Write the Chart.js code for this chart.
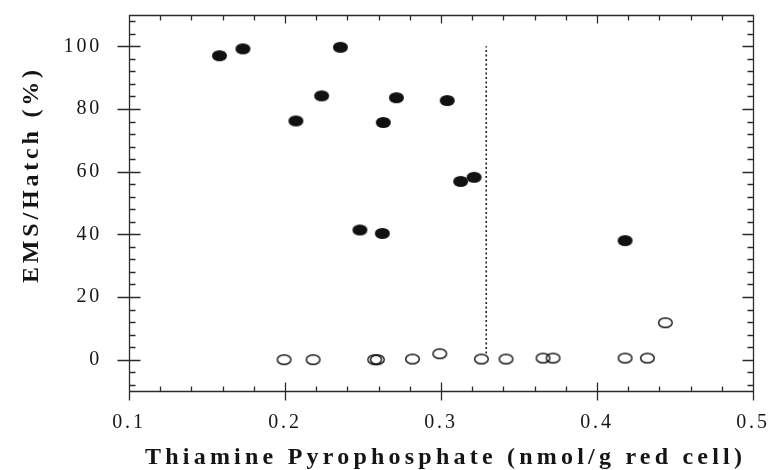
<!DOCTYPE html>
<html lang="en">
<head>
<meta charset="UTF-8" />
<title>EMS/Hatch vs Thiamine Pyrophosphate</title>
<script src="https://cdn.jsdelivr.net/npm/chart.js"></script>
<style>
  body { margin: 0; background: #fff; }
</style>
</head>
<body>
<canvas id="tppChart" width="769" height="470"></canvas>
<script>
// filled circles (EMS present)
const filledX = [0.158, 0.173, 0.2355, 0.207, 0.2235, 0.263, 0.2714, 0.248, 0.2624, 0.304, 0.3126, 0.3212, 0.418];
const filledY = [97.0, 99.2, 99.7, 76.2, 84.2, 75.7, 83.6, 41.4, 40.3, 82.7, 56.9, 58.2, 38.0];
// open circles
const openX = [0.1994, 0.218, 0.2575, 0.2592, 0.2817, 0.2992, 0.3259, 0.3417, 0.3654, 0.3718, 0.418, 0.4323, 0.4438];
const openY = [0, 0, 0, 0, 0.2, 1.9, 0.2, 0.2, 0.5, 0.5, 0.5, 0.5, 11.8];
// dotted cut-off line
const cutoffX = [0.329, 0.329];
const cutoffY = [2, 100];

const xTicks = [0.1, 0.2, 0.3, 0.4, 0.5];
const yTicks = [0, 20, 40, 60, 80, 100];
const xTitle = "Thiamine Pyrophosphate (nmol/g red cell)";
const yTitle = "EMS/Hatch (%)";

function ellipse(w, h, fill, stroke) {
  const c = document.createElement("canvas");
  c.width = w + 2;
  c.height = h + 2;
  const g = c.getContext("2d");
  g.beginPath();
  g.ellipse((w + 2) / 2, (h + 2) / 2, w / 2 - (stroke ? 0.7 : 0), h / 2 - (stroke ? 0.7 : 0), 0, 0, Math.PI * 2);
  if (fill) { g.fillStyle = fill; g.fill(); }
  if (stroke) { g.lineWidth = 1.4; g.strokeStyle = stroke; g.stroke(); }
  return c;
}

function pairs(xs, ys) {
  return xs.map((x, i) => ({ x: x, y: ys[i] }));
}

function spacedText(ctx, text, cx, cy, target) {
  ctx.letterSpacing = "0px";
  const w = ctx.measureText(text).width;
  const s = (target - w) / (text.length - 1);
  ctx.letterSpacing = s + "px";
  ctx.fillText(text, cx + s / 2, cy);
}

function noPad(s) {
  s.paddingTop = 0;
  s.paddingBottom = 0;
  s.paddingLeft = 0;
  s.paddingRight = 0;
}

const frame = {
  id: "frame",
  beforeDraw(chart) {
    chart.ctx.letterSpacing = "2.8px";
  },
  afterDraw(chart) {
    const { ctx, chartArea: a, scales } = chart;
    const x = scales.x, y = scales.y;
    const px = (v) => Math.round(x.getPixelForValue(v)) + 0.5;
    const py = (v) => Math.round(y.getPixelForValue(v)) + 0.5;
    const L = Math.round(a.left) + 0.5, R = Math.round(a.right) + 0.5;
    const T = Math.round(a.top) + 0.5, B = Math.round(a.bottom) + 0.5;
    ctx.save();
    ctx.strokeStyle = "#2a2a2a";
    ctx.lineWidth = 1.3;
    ctx.beginPath();
    ctx.moveTo(L, T); ctx.lineTo(R, T); ctx.lineTo(R, B); ctx.lineTo(L, B); ctx.closePath();

    // x ticks
    for (let k = 0; k <= 20; k++) {
      const v = 0.1 + k * 0.02;
      const p = px(v);
      const major = k % 5 === 0;
      if (major) {
        ctx.moveTo(p, B - 9); ctx.lineTo(p, B + 9);
        ctx.moveTo(p, T); ctx.lineTo(p, T + 8);
      } else {
        ctx.moveTo(p, B - 5); ctx.lineTo(p, B);
        ctx.moveTo(p, T); ctx.lineTo(p, T + 5);
      }
    }
    // y ticks
    for (let v = -8; v <= 108; v += 4) {
      const p = py(v);
      if (v % 20 === 0) {
        ctx.moveTo(L - 12, p); ctx.lineTo(L + 11, p);
        ctx.moveTo(R - 11, p); ctx.lineTo(R, p);
      } else {
        ctx.moveTo(L, p); ctx.lineTo(L + 6, p);
        ctx.moveTo(R - 6, p); ctx.lineTo(R, p);
      }
    }
    ctx.stroke();

    // axis titles
    ctx.fillStyle = "#151515";
    ctx.font = "bold 24px 'Liberation Serif'";
    ctx.textAlign = "center";
    ctx.textBaseline = "alphabetic";
    spacedText(ctx, xTitle, 443.5, 464, 597);
    ctx.save();
    ctx.translate(37.5, 176.5);
    ctx.rotate(-Math.PI / 2);
    spacedText(ctx, yTitle, 0, 0, 213);
    ctx.restore();
    ctx.restore();
  }
};

new Chart(document.getElementById("tppChart"), {
  type: "scatter",
  data: {
    datasets: [
      {
        data: pairs(filledX, filledY),
        pointStyle: ellipse(15, 11, "#111", null),
        pointRadius: 7
      },
      {
        data: pairs(openX, openY),
        pointStyle: ellipse(15, 11, null, "#111"),
        pointRadius: 7
      },
      {
        data: pairs(cutoffX, cutoffY),
        showLine: true,
        pointRadius: 0,
        borderColor: "#222",
        borderWidth: 1.6,
        borderDash: [2, 2.5]
      }
    ]
  },
  options: {
    responsive: false,
    animation: false,
    layout: { padding: { left: 0, right: 16, top: 15, bottom: 0 } },
    plugins: { legend: { display: false }, tooltip: { enabled: false } },
    scales: {
      x: {
        type: "linear",
        min: 0.1,
        max: 0.5,
        grid: { display: false, drawTicks: false },
        border: { display: false },
        afterBuildTicks: (s) => { s.ticks = xTicks.map((v) => ({ value: v })); },
        afterFit: (s) => { s.height = 79; noPad(s); },
        ticks: {
          padding: 20,
          maxRotation: 0,
          color: "#151515",
          font: { family: "'Liberation Serif'", size: 20 },
          callback: (v) => v.toFixed(1)
        }
      },
      y: {
        type: "linear",
        min: -10,
        max: 110,
        grid: { display: false, drawTicks: false },
        border: { display: false },
        afterBuildTicks: (s) => { s.ticks = yTicks.map((v) => ({ value: v })); },
        afterFit: (s) => { s.width = 129; noPad(s); },
        ticks: {
          padding: 27,
          color: "#151515",
          font: { family: "'Liberation Serif'", size: 20 },
          callback: (v) => String(v)
        }
      }
    }
  },
  plugins: [frame]
});
</script>
</body>
</html>
